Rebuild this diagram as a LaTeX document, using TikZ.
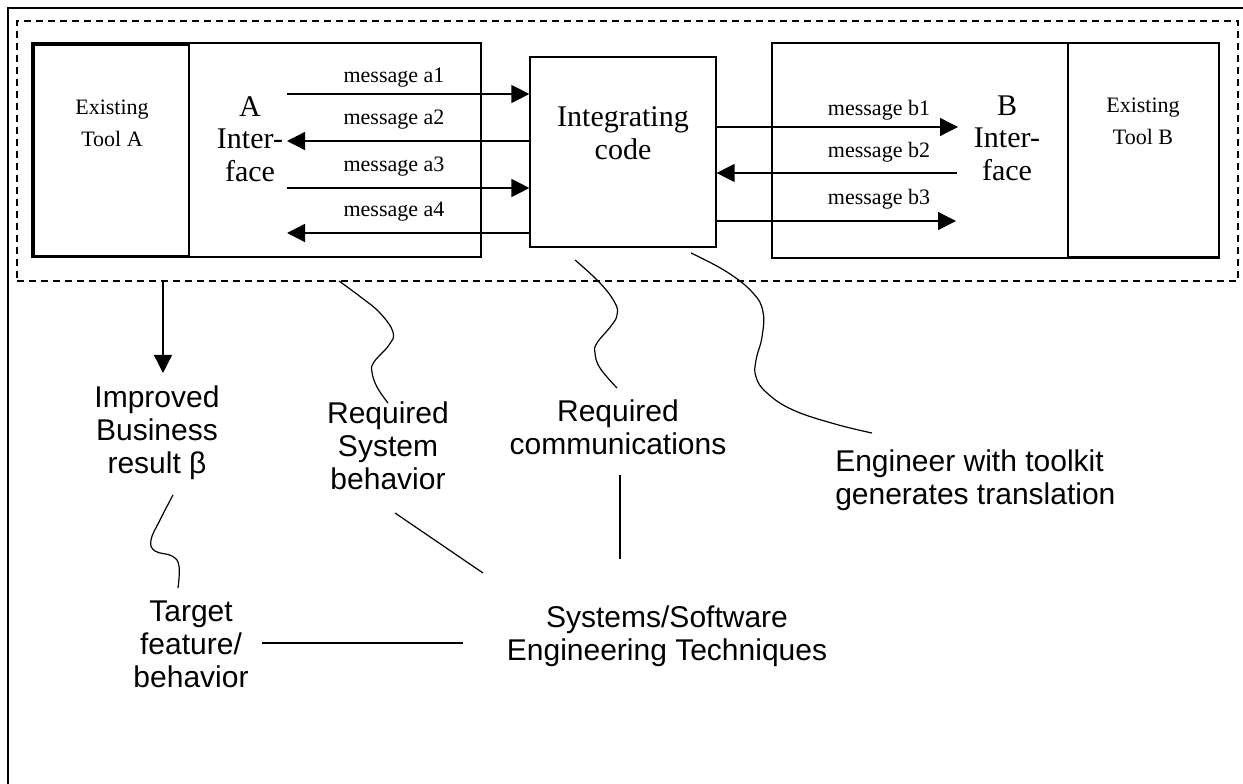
\documentclass[tikz,border=0pt]{standalone}
\usepackage{fontspec}
\setmainfont{Liberation Serif}
\newfontfamily\arialfont{Liberation Sans}
\usetikzlibrary{arrows.meta,fit}
\begin{document}
\begin{tikzpicture}[x=0.75pt,y=-0.75pt,
  box/.style={draw, line width=0.9pt, inner sep=0pt},
  toolbox/.style={draw, line width=1.6pt, inner sep=0pt},
  msg/.style={inner sep=0pt,font=\fontsize{16.5pt}{19pt}\selectfont},
  tooltxt/.style={inner sep=0pt,align=center,font=\fontsize{16.5pt}{24pt}\selectfont},
  big/.style={inner sep=0pt,align=center,font=\fontsize{22.5pt}{24.5pt}\selectfont},
  sans/.style={inner sep=0pt,align=center,font=\arialfont\fontsize{22.5pt}{24.75pt}\selectfont},
  arr/.style={line width=1pt,-{Triangle[length=13.5pt,width=13.5pt]}},
  link/.style={line width=0.9pt},
  wave/.style={line width=0.9pt, smooth, tension=0.7},
]
\useasboundingbox (0,0) rectangle (1243,784);
\fill[white] (0,0) rectangle (1243,784);
\draw[line width=1.5pt] (1243,8) -- (8,8) -- (8,784);
\node[fit={(17,21) (1238,281)}, inner sep=0pt, draw, dash pattern=on 5.25pt off 3.75pt, line width=1pt] (dash) {};

% boxes
\node[box, fit={(32,43) (481,257)}] (boxA) {};
\node[toolbox, fit={(34,45) (189,256)}] (toolA) {};
\node[box, fit={(772,43) (1219,258)}] (boxB) {};
\node[toolbox, fit={(1068,43) (1219,257)}] (toolB) {};
\node[box, fit={(530,57) (716,247)}] (ic) {};

% texts in boxes
\node[big] (ictext) at (623,133) {Integrating\\code};
\node[tooltxt] (tA) at (112,123) {Existing\\Tool A};
\node[big] (iA) at (250,139) {A\\Inter-\\face};
\node[big] (iB) at (1007,138) {B\\Inter-\\face};
\node[tooltxt] (tB) at (1143,121.5) {Existing\\Tool B};

% A side messages
\coordinate (a1) at (287,94);
\coordinate (a2) at (287,141);
\coordinate (a3) at (287,188);
\coordinate (a4) at (287,233);
\draw[arr] (a1) -- (a1 -| ic.west);
\draw[arr] (a2 -| ic.west) -- (a2);
\draw[arr] (a3) -- (a3 -| ic.west);
\draw[arr] (a4 -| ic.west) -- (a4);
\node[msg] (la1) at (394,78) {message a1};
\node[msg] (la2) at (394,120) {message a2};
\node[msg] (la3) at (394,167) {message a3};
\node[msg] (la4) at (394,212) {message a4};

% B side messages
\coordinate (b1) at (958,127);
\coordinate (b2) at (957,173);
\coordinate (b3) at (956,221);
\draw[arr] (b1 -| ic.east) -- (b1);
\draw[arr] (b2) -- (b2 -| ic.east);
\draw[arr] (b3 -| ic.east) -- (b3);
\node[msg] (lb1) at (879,110) {message b1};
\node[msg] (lb2) at (879,152) {message b2};
\node[msg] (lb3) at (879,199) {message b3};

% lower texts
\node[sans] (imp) at (157,433) {Improved\\Business\\result β};
\node[sans] (rsb) at (388,446) {Required\\System\\behavior};
\node[sans] (rc) at (618,427) {Required\\communications};
\node[sans, align=left, anchor=west] (eng) at (835,480) {Engineer with toolkit\\generates translation};
\node[sans] (tgt) at (191,644) {Target\\feature/\\behavior};
\node[sans] (set) at (667,636) {Systems/Software\\Engineering Techniques};

% connectors
\coordinate (d1) at (163,281);
\coordinate (d2) at (163,373);
\draw[arr] (d1) -- (d2);

\draw[wave] plot coordinates {(339,281) (362,298) (380,313) (393,332) (389,345) (374,362) (372,372) (377,387) (388,403)};
\draw[wave] plot coordinates {(575,260) (600,283) (615,303) (617,315) (611,326) (597,343) (595,353) (600,368) (617,388)};
\draw[wave] plot coordinates {(691,253) (727,272) (753,293) (763,312) (762,337) (756,360) (756,377) (767,393) (793,410) (835,424) (872,433)};
\draw[wave] plot coordinates {(173,495) (160,520) (151,540) (155,551) (172,556) (179,566) (178,588)};

\coordinate (s1) at (395,513);
\coordinate (s2) at (483,573);
\draw[link] (s1) -- (s2);
\coordinate (v1) at (620,475);
\coordinate (v2) at (620,559);
\draw[link] (v1) -- (v2);
\coordinate (h1) at (262,643);
\coordinate (h2) at (463,643);
\draw[link] (h1) -- (h2);
\end{tikzpicture}
\end{document}
